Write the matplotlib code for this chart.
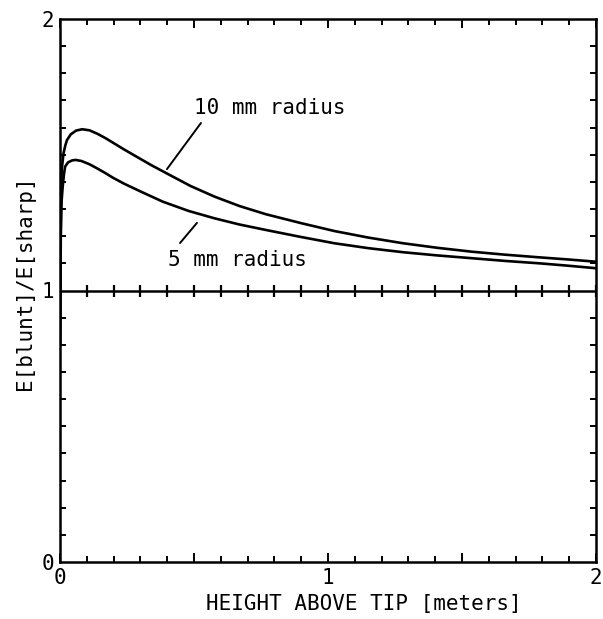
import matplotlib
matplotlib.use("Agg")
import matplotlib.pyplot as plt
import numpy as np

# Data
x10 = [0, 0.003, 0.0064, 0.013, 0.02, 0.026, 0.04, 0.06, 0.083, 0.11, 0.14, 0.17, 0.2,
       0.24, 0.282, 0.34, 0.397, 0.487, 0.576, 0.67, 0.768, 0.9, 1.024, 1.15, 1.28,
       1.41, 1.536, 1.66, 1.79, 1.9, 2.0]
r10_vals = [0.8, 1.3, 1.444, 1.505, 1.535, 1.554, 1.575, 1.589, 1.594, 1.590, 1.577, 1.561, 1.543,
            1.519, 1.495, 1.462, 1.432, 1.385, 1.346, 1.311, 1.281, 1.248, 1.219, 1.195, 1.174,
            1.157, 1.143, 1.132, 1.122, 1.114, 1.106]
x5 = [0, 0.003, 0.006, 0.01, 0.015, 0.019, 0.03, 0.045, 0.058, 0.08, 0.11, 0.14, 0.17, 0.2,
      0.24, 0.3, 0.384, 0.48, 0.576, 0.67, 0.768, 0.9, 1.024, 1.15, 1.28, 1.41, 1.536,
      1.66, 1.79, 1.9, 2.0]
r5_vals = [0.8, 1.2, 1.33, 1.382, 1.43, 1.456, 1.472, 1.479, 1.481, 1.477, 1.465, 1.449, 1.432, 1.414,
           1.393, 1.365, 1.327, 1.293, 1.266, 1.243, 1.223, 1.197, 1.174, 1.156, 1.141, 1.129, 1.119,
           1.109, 1.100, 1.091, 1.082]
label_10 = "10 mm radius"
label_5 = "5 mm radius"
xlabel = "HEIGHT ABOVE TIP [meters]"
ylabel = "E[blunt]/E[sharp]"
major_ticks = [0, 1, 2]
ref_level = 1.0

FONT = "DejaVu Sans Mono"
fig = plt.figure(figsize=(6.03, 6.19), dpi=100)
ax = fig.add_axes([60/603, 57/619, 536/603, 543/619])

lw = 1.9
ax.plot(x10, r10_vals, color="black", lw=lw)
ax.plot(x5, r5_vals, color="black", lw=lw)

# reference line at 1 with crossing ticks
ax.axhline(ref_level, color="black", lw=1.8)
xt = np.arange(0, 2.0001, 0.1)
ax.plot(xt, np.full_like(xt, ref_level), ls="none", marker="|", ms=8, mew=1.6, color="black")

ax.set_xlim(0, 2)
ax.set_ylim(0, 2)
ax.set_xticks(np.arange(0, 2.0001, 0.5))
ax.set_xticklabels(["0", "", "1", "", "2"])
ax.set_yticks(major_ticks)
ax.set_xticks(np.arange(0, 2.0001, 0.1), minor=True)
ax.set_yticks(np.arange(0, 2.0001, 0.1), minor=True)
ax.tick_params(which="both", direction="in", top=True, right=True, width=1.4)
ax.tick_params(axis="x", which="major", length=6.5, pad=4)
ax.tick_params(axis="y", which="major", length=0, pad=4)
ax.tick_params(which="minor", length=4)
for lab in ax.get_xticklabels() + ax.get_yticklabels():
    lab.set_fontfamily(FONT)
    lab.set_fontsize(15)
for s in ax.spines.values():
    s.set_linewidth(1.8)

ax.text(0.567, -0.078, xlabel, transform=ax.transAxes, ha="center", va="center",
        fontfamily=FONT, fontsize=15)
fig.text(25/603, 1 - 283/619, ylabel, rotation=90, ha="center", va="center",
         fontfamily=FONT, fontsize=15)

# annotations
ax.text(0.784, 1.674, label_10, fontfamily=FONT, fontsize=15, ha="center", va="center")
ax.annotate("", xy=(0.399, 1.447), xytext=(0.526, 1.617),
            arrowprops=dict(arrowstyle="-", lw=1.4, color="black", shrinkA=0, shrinkB=0))
ax.text(0.662, 1.112, label_5, fontfamily=FONT, fontsize=15, ha="center", va="center")
ax.annotate("", xy=(0.511, 1.249), xytext=(0.448, 1.175),
            arrowprops=dict(arrowstyle="-", lw=1.4, color="black", shrinkA=0, shrinkB=0))

fig.savefig("out.png", dpi=100)
